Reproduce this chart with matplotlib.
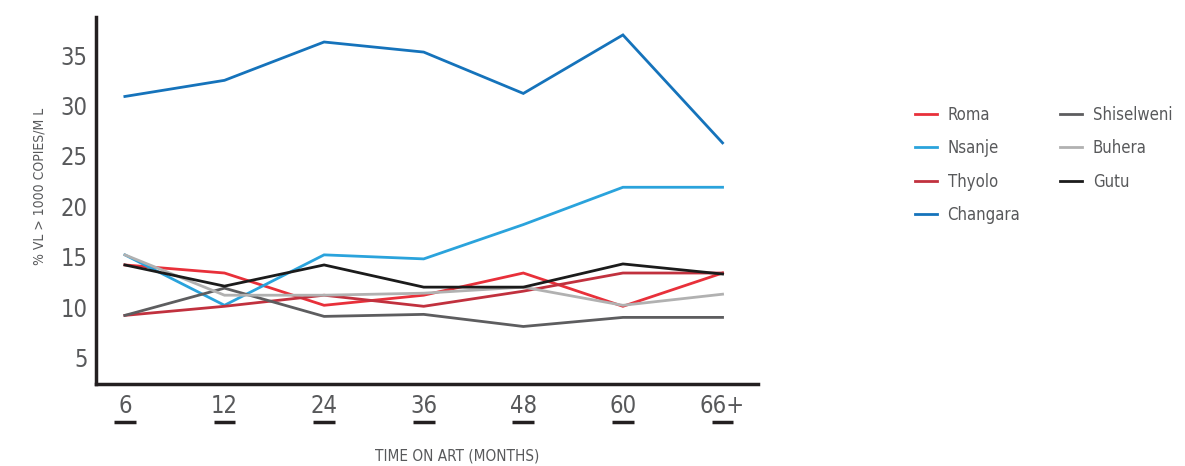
import numpy as np
import matplotlib
matplotlib.use("Agg")
import matplotlib.pyplot as plt
import matplotlib.transforms as mtransforms

# Data
months = ["6", "12", "24", "36", "48", "60", "66+"]

roma = [14.2, 13.4, 10.2, 11.2, 13.4, 10.1, 13.4]
nsanje = [15.2, 10.2, 15.2, 14.8, 18.2, 21.9, 21.9]
thyolo = [9.2, 10.1, 11.2, 10.1, 11.6, 13.4, 13.4]
changara = [30.9, 32.5, 36.3, 35.3, 31.2, 37.0, 26.3]
shiselweni = [9.2, 11.9, 9.1, 9.3, 8.1, 9.0, 9.0]
buhera = [15.2, 11.2, 11.2, 11.4, 12.0, 10.2, 11.3]
gutu = [14.2, 12.1, 14.2, 12.0, 12.0, 14.3, 13.3]

yticks = [5, 10, 15, 20, 25, 30, 35]

# a condensed face is closest to the reference lettering
plt.rcParams['font.family'] = ['DejaVu Sans']
plt.rcParams['font.stretch'] = 'condensed'
text_color = '#58595b'

fig = plt.figure(figsize=(11.85, 4.66), dpi=100)
ax = fig.add_axes([0.081, 0.176, 0.559, 0.788])

x = np.arange(len(months))
series = [
    ("Roma", roma, '#e8303a'),
    ("Nsanje", nsanje, '#2aa3dc'),
    ("Thyolo", thyolo, '#c1313e'),
    ("Changara", changara, '#1573bb'),
    ("Shiselweni", shiselweni, '#5d5d5f'),
    ("Buhera", buhera, '#b1b1b1'),
    ("Gutu", gutu, '#1b1b1b'),
]
for name, vals, col in series:
    ax.plot(x, vals, color=col, lw=2.0, label=name, solid_joinstyle='miter')

ax.set_xlim(-0.29, 6.36)
ax.set_ylim(2.4, 38.8)
ax.set_yticks(yticks)
ax.set_xticks(x)
ax.set_xticklabels(months)
ax.tick_params(axis='both', length=0, labelsize=17, colors=text_color)
ax.tick_params(axis='x', pad=7)
ax.tick_params(axis='y', pad=6)

for side in ['top', 'right']:
    ax.spines[side].set_visible(False)
for side in ['left', 'bottom']:
    ax.spines[side].set_linewidth(2.5)
    ax.spines[side].set_color('#231f20')

# underline bars beneath x tick labels
trans = mtransforms.blended_transform_factory(ax.transData, ax.transAxes)
for i in x:
    ax.plot([i - 0.11, i + 0.11], [-0.103, -0.103], color='#231f20', lw=2.5,
            transform=trans, clip_on=False, solid_capstyle='butt')

ax.set_ylabel("% VL > 1000 COPIES/M L", fontsize=10, color=text_color)
ax.yaxis.set_label_coords(-0.075, 0.537)
ax.set_xlabel("TIME ON ART (MONTHS)", fontsize=11, color=text_color)
ax.xaxis.set_label_coords(0.545, -0.175)

fig.legend(loc='upper left', bbox_to_anchor=(915 / 1185, 1 - 106 / 466), ncol=2,
           frameon=False, borderpad=0, borderaxespad=0,
           fontsize=12, handlelength=1.3, handletextpad=0.65, columnspacing=2.4,
           labelspacing=0.92, labelcolor=text_color)

fig.savefig("out.png", dpi=100)
